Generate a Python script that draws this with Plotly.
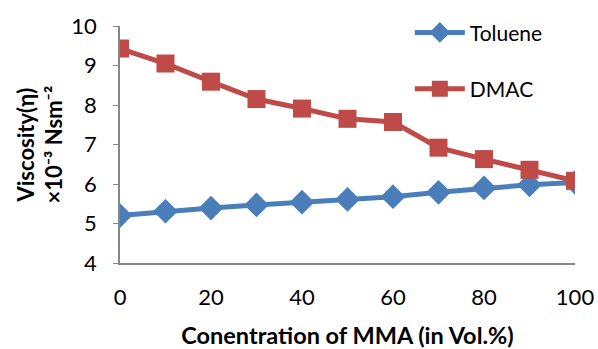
import plotly.graph_objects as go

conc = [0, 10, 20, 30, 40, 50, 60, 70, 80, 90, 100]
toluene = [5.20, 5.31, 5.39, 5.47, 5.54, 5.61, 5.68, 5.79, 5.90, 5.98, 6.04]
dmac = [9.43, 9.05, 8.59, 8.15, 7.91, 7.65, 7.57, 6.92, 6.63, 6.36, 6.08]
xticks = [0, 20, 40, 60, 80, 100]
yticks = [4, 5, 6, 7, 8, 9, 10]

FONT = "Lato"
fig = go.Figure()
fig.add_trace(go.Scatter(x=conc, y=toluene, name="Toluene", mode="lines+markers",
                         legendgroup="a",
                         line=dict(color="#4A7EBB", width=5),
                         marker=dict(symbol="diamond", size=19, color="#4A7EBB")))
fig.add_trace(go.Scatter(x=conc, y=dmac, name="DMAC", mode="lines+markers",
                         legendgroup="b",
                         line=dict(color="#BE4B48", width=5),
                         marker=dict(symbol="square", size=18, color="#BE4B48")))

fig.update_layout(
    width=598, height=349,
    margin=dict(l=120, r=23, t=24, b=86),
    paper_bgcolor="white", plot_bgcolor="white",
    font=dict(family=FONT, size=22, color="#000"),
    showlegend=True,
    legend=dict(x=0.637, y=1.058, xanchor="left", yanchor="top",
                font=dict(size=21), tracegroupgap=26, bgcolor="rgba(0,0,0,0)",
                itemwidth=50),
    xaxis=dict(range=[0, 100], tickvals=xticks, showgrid=False, zeroline=False,
               showline=True, linecolor="#868686", linewidth=1.5, automargin=False,
               ticks="", ticklen=0, tickfont=dict(size=22), ticklabelstandoff=14,
               title=dict(text="<b>Conentration of MMA (in Vol.%)</b>",
                          font=dict(size=23.5), standoff=19)),
    yaxis=dict(range=[4, 10], tickvals=yticks, showgrid=False, zeroline=False,
               showline=True, linecolor="#868686", linewidth=1.5, automargin=False,
               ticks="outside", ticklen=5, tickcolor="#868686", tickfont=dict(size=22),
               ticklabelstandoff=12),
    annotations=[dict(text="<b>Viscosity(η)</b><br><b>×10⁻³ Nsm⁻²</b>",
                      xref="paper", yref="paper", x=-0.178, y=0.5,
                      xanchor="center", yanchor="middle", textangle=-90,
                      showarrow=False, font=dict(size=22))],
)
fig.write_html("out.html")
